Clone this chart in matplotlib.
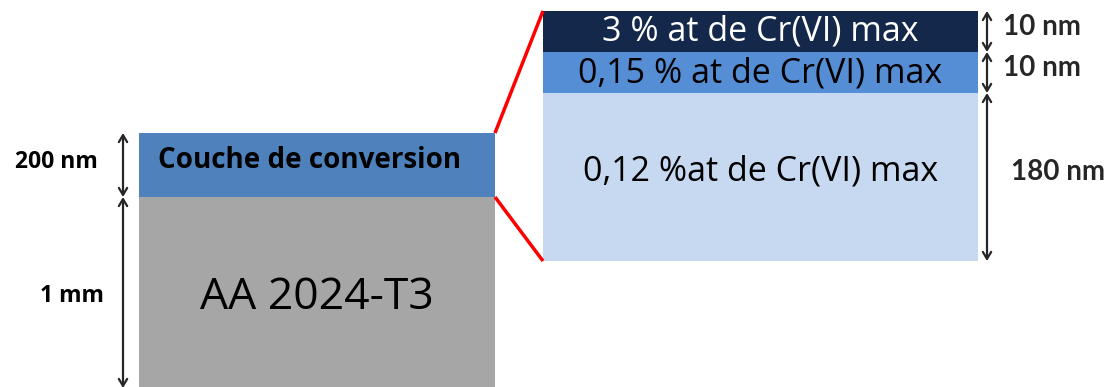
import matplotlib
matplotlib.use("Agg")
import matplotlib.pyplot as plt
from matplotlib.patches import Rectangle

# Data
left_layers = ["Couche de conversion", "AA 2024-T3"]
left_thickness = ["200 nm", "1 mm"]
right_layers = ["3 % at de Cr(VI) max", "0,15 % at de Cr(VI) max", "0,12 %at de Cr(VI) max"]
right_thickness = ["10 nm", "10 nm", "180 nm"]

fig = plt.figure(figsize=(11.12, 3.87), dpi=100)
ax = fig.add_axes([0, 0, 1, 1])
ax.set_xlim(0, 1112)
ax.set_ylim(387, 0)
ax.axis("off")

# Left block
left_x0, left_x1 = 139, 495
left_y = [133, 197, 390]
left_colors = ["#4F81BD", "#A6A6A6"]
for i in range(2):
    ax.add_patch(Rectangle((left_x0, left_y[i]), left_x1 - left_x0, left_y[i + 1] - left_y[i],
                           facecolor=left_colors[i], edgecolor="none"))
ax.text(310, 161, left_layers[0], ha="center", va="center", fontsize=20,
        fontweight="bold", family="Open Sans", color="black")
ax.text(317, 298, left_layers[1], ha="center", va="center", fontsize=32,
        family="Open Sans", color="black")

# Right stack
rx0, rx1 = 543, 978
right_y = [11, 52, 93, 261]
right_colors = ["#13284A", "#558ED5", "#C6D9F1"]
text_colors = ["white", "black", "black"]
text_y = [32, 73, 172]
for i in range(3):
    ax.add_patch(Rectangle((rx0, right_y[i]), rx1 - rx0, right_y[i + 1] - right_y[i],
                           facecolor=right_colors[i], edgecolor="none"))
    ax.text((rx0 + rx1) / 2, text_y[i], right_layers[i], ha="center", va="center",
            fontsize=24.5, family="Open Sans", color=text_colors[i])

# Red zoom lines
ax.plot([495, 543], [133, 11], color="#FF0000", lw=2.5, solid_capstyle="butt")
ax.plot([495, 543], [197, 261], color="#FF0000", lw=2.5, solid_capstyle="butt")

# Dimension arrows
arrow_kw = dict(arrowstyle="<->,head_length=0.5,head_width=0.3", color="#262626", lw=1.6,
                shrinkA=0, shrinkB=0)
for (a, b) in [(133, 197), (197, 388)]:
    ax.annotate("", xy=(123, a), xytext=(123, b), arrowprops=arrow_kw)
for i in range(3):
    ax.annotate("", xy=(987, right_y[i]), xytext=(987, right_y[i + 1]), arrowprops=arrow_kw)

ax.text(56, 162, left_thickness[0], ha="center", va="center", fontsize=16.5,
        fontweight="bold", family="Open Sans", color="black")
ax.text(72, 296, left_thickness[1], ha="center", va="center", fontsize=16.5,
        fontweight="bold", family="Open Sans", color="black")

right_label_x = [1042, 1042, 1058]
right_label_y = [27, 68, 172]
for i in range(3):
    ax.text(right_label_x[i], right_label_y[i], right_thickness[i], ha="center", va="center",
            fontsize=20, fontweight="bold", family="Lato", color="#262626")

fig.savefig("out.png", dpi=100)
